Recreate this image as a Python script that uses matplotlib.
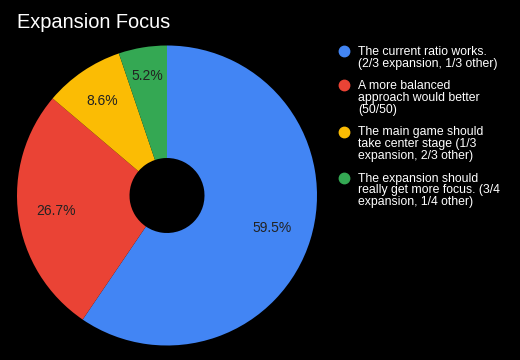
import matplotlib
matplotlib.use("Agg")
import matplotlib.pyplot as plt
import numpy as np

plt.rcParams["font.family"] = ["Liberation Sans", "DejaVu Sans"]

title = "Expansion Focus"
labels = [
    "The current ratio works.\n(2/3 expansion, 1/3 other)",
    "A more balanced\napproach would better\n(50/50)",
    "The main game should\ntake center stage (1/3\nexpansion, 2/3 other)",
    "The expansion should\nreally get more focus. (3/4\nexpansion, 1/4 other)",
]
shares = [59.5, 26.7, 8.6, 5.2]
colors = ["#4285F4", "#EA4335", "#FBBC04", "#34A853"]

# where Google's renderer put each percent label (fraction of radius)
label_radius = [0.734, 0.75, 0.765, 0.81]

W, H = 520, 360
fig = plt.figure(figsize=(W / 100, H / 100), dpi=100, facecolor="black")

cx, cy, r = 167, 195.5, 150
ax = fig.add_axes([(cx - r) / W, (H - cy - r) / H, 2 * r / W, 2 * r / H])
ax.set_facecolor("black")

wedges, _ = ax.pie(
    shares,
    colors=colors,
    startangle=90,
    counterclock=False,
    radius=1,
    wedgeprops=dict(width=0.75, linewidth=0),
)
for w, val, lr in zip(wedges, shares, label_radius):
    mid = np.deg2rad((w.theta1 + w.theta2) / 2)
    ax.text(lr * np.cos(mid), lr * np.sin(mid), f"{val:.1f}%",
            ha="center", va="center", fontsize=10, color="#222222")
ax.set_xlim(-1, 1)
ax.set_ylim(-1, 1)
ax.set_aspect("equal")
ax.axis("off")

fig.text(17 / W, 1 - 28 / H, title, fontsize=14.4, color="white",
         ha="left", va="baseline")

# legend, drawn by hand to match line wrapping
line_step = 11.7
entry_gap = 11
base = 55
for lab, col in zip(labels, colors):
    lines = lab.split("\n")
    fig.add_artist(plt.Line2D([343.5 / W], [1 - (base - 4) / H], marker="o",
                              markersize=7.5, color=col, linestyle="none",
                              transform=fig.transFigure))
    for i, ln in enumerate(lines):
        fig.text(358 / W, 1 - (base + i * line_step) / H, ln, fontsize=8.8,
                 color="white", ha="left", va="baseline")
    base += len(lines) * line_step + entry_gap

fig.savefig("out.png", dpi=100, facecolor="black")
